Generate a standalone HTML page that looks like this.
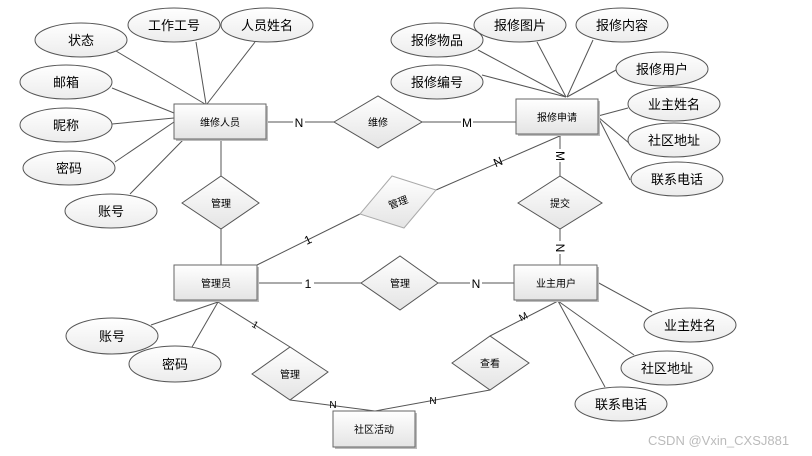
<!DOCTYPE html>
<html><head><meta charset="utf-8"><style>
html,body{margin:0;padding:0;background:#fff;width:812px;height:456px;overflow:hidden}
svg{display:block}
text{font-family:"Liberation Sans","Noto Sans CJK SC",sans-serif;fill:#000}
</style></head><body>
<svg width="812" height="456" viewBox="0 0 812 456" xmlns="http://www.w3.org/2000/svg">
<defs>
<linearGradient id="g" x1="0" y1="0" x2="0" y2="1"><stop offset="0" stop-color="#ffffff"/><stop offset="1" stop-color="#e4e4e4"/></linearGradient>
<linearGradient id="g2" x1="0" y1="0" x2="0" y2="1"><stop offset="0" stop-color="#ffffff"/><stop offset="1" stop-color="#ececec"/></linearGradient>
</defs>
<g stroke="#555" stroke-width="1" fill="none">
<!-- 维修人员 lines -->
<line x1="116" y1="51" x2="205" y2="104"/>
<line x1="196" y1="42" x2="206" y2="104"/>
<line x1="255" y1="42" x2="207" y2="104"/>
<line x1="112" y1="88" x2="174" y2="113"/>
<line x1="112" y1="124" x2="174" y2="118"/>
<line x1="115" y1="162" x2="174" y2="122"/>
<line x1="130" y1="194" x2="184" y2="139"/>
<line x1="266" y1="122" x2="334" y2="122"/>
<line x1="422" y1="122" x2="516" y2="122"/>
<line x1="221" y1="139" x2="221" y2="176"/>
<line x1="221" y1="228" x2="221" y2="265"/>
<!-- 报修申请 lines -->
<line x1="478" y1="50" x2="566" y2="97"/>
<line x1="482" y1="75" x2="566" y2="97"/>
<line x1="537" y1="42" x2="566" y2="97"/>
<line x1="593" y1="40" x2="567" y2="97"/>
<line x1="616" y1="70" x2="567" y2="97"/>
<line x1="628" y1="108" x2="598" y2="116"/>
<line x1="629" y1="143" x2="598" y2="117"/>
<line x1="630" y1="180" x2="598" y2="117"/>
<line x1="560" y1="134" x2="560" y2="176"/>
<line x1="560" y1="228" x2="560" y2="265"/>
<line x1="436" y1="190" x2="562" y2="135"/>
<line x1="257" y1="265" x2="360" y2="214"/>
<!-- 管理员 lines -->
<line x1="257" y1="283" x2="361" y2="283"/>
<line x1="438" y1="283" x2="514" y2="283"/>
<line x1="218" y1="302" x2="151" y2="325"/>
<line x1="218" y1="302" x2="192" y2="347"/>
<line x1="218" y1="302" x2="290" y2="347"/>
<line x1="290" y1="400" x2="375" y2="411"/>
<line x1="375" y1="411" x2="490" y2="390"/>
<line x1="490" y1="336" x2="558" y2="301"/>
<line x1="597" y1="282" x2="652" y2="312"/>
<line x1="558" y1="301" x2="634" y2="355"/>
<line x1="558" y1="301" x2="605" y2="387"/>
</g>
<!-- cardinality labels -->
<g font-size="12" text-anchor="middle">
<rect x="293" y="115" width="12" height="14" fill="#fff"/><text x="299" y="127">N</text>
<rect x="461" y="115" width="12" height="14" fill="#fff"/><text x="467" y="127">M</text>
<text x="498" y="166" transform="rotate(-23 498 162)">N</text>
<text x="308" y="244" transform="rotate(-25 308 240)">1</text>
<rect x="554" y="149" width="12" height="13" fill="#fff"/><text x="560" y="160" transform="rotate(90 560 156)">M</text>
<rect x="554" y="241" width="12" height="13" fill="#fff"/><text x="560" y="252" transform="rotate(90 560 248)">N</text>
<rect x="302" y="276" width="12" height="14" fill="#fff"/><text x="308" y="288">1</text>
<rect x="470" y="276" width="12" height="14" fill="#fff"/><text x="476" y="288">N</text>
<text x="255" y="328" font-size="10" transform="rotate(30 255 325)">1</text>
<text x="333" y="408" font-size="10">N</text>
<text x="433" y="404" font-size="10">N</text>
<text x="523" y="320" font-size="10" transform="rotate(-27 523 316)">M</text>
</g>
<!-- ellipses -->
<g fill="url(#g2)" stroke="#555" stroke-width="1">
<ellipse cx="81" cy="40" rx="46" ry="17"/>
<ellipse cx="174" cy="25" rx="46" ry="17"/>
<ellipse cx="267" cy="25" rx="46" ry="17"/>
<ellipse cx="66" cy="82" rx="46" ry="17"/>
<ellipse cx="66" cy="125" rx="46" ry="17"/>
<ellipse cx="69" cy="168" rx="46" ry="17"/>
<ellipse cx="111" cy="211" rx="46" ry="17"/>
<ellipse cx="437" cy="40" rx="46" ry="17"/>
<ellipse cx="520" cy="25" rx="46" ry="17"/>
<ellipse cx="622" cy="25" rx="46" ry="17"/>
<ellipse cx="437" cy="82" rx="46" ry="17"/>
<ellipse cx="662" cy="69" rx="46" ry="17"/>
<ellipse cx="674" cy="104" rx="46" ry="17"/>
<ellipse cx="674" cy="140" rx="46" ry="17"/>
<ellipse cx="677" cy="179" rx="46" ry="17"/>
<ellipse cx="112" cy="336" rx="46" ry="18"/>
<ellipse cx="175" cy="364" rx="46" ry="18"/>
<ellipse cx="690" cy="325" rx="46" ry="17"/>
<ellipse cx="667" cy="368" rx="46" ry="17"/>
<ellipse cx="621" cy="404" rx="46" ry="17"/>
</g>
<!-- rects -->
<g fill="url(#g)" stroke="#666" stroke-width="1">
<rect x="176" y="106" width="92" height="35" fill="#bbb" stroke="none"/>
<rect x="174" y="104" width="92" height="35"/>
<rect x="518" y="101" width="82" height="35" fill="#bbb" stroke="none"/>
<rect x="516" y="99" width="82" height="35"/>
<rect x="176" y="267" width="83" height="35" fill="#bbb" stroke="none"/>
<rect x="174" y="265" width="83" height="35"/>
<rect x="516" y="267" width="83" height="35" fill="#bbb" stroke="none"/>
<rect x="514" y="265" width="83" height="35"/>
<rect x="335" y="413" width="82" height="36" fill="#bbb" stroke="none"/>
<rect x="333" y="411" width="82" height="36"/>
</g>
<!-- diamonds -->
<g fill="url(#g)" stroke="#555" stroke-width="1">
<polygon points="334,122 378,96 422,122 378,148"/>
<polygon points="182,203 221,176 259,203 221,229"/>
<polygon points="360,214 392,176 436,190 404,228" stroke="#aaa"/>
<polygon points="518,203 560,176 602,203 560,229"/>
<polygon points="361,283 400,256 438,283 400,310"/>
<polygon points="252,374 290,347 328,372 290,400"/>
<polygon points="452,363 490,336 529,363 490,390"/>
</g>
<!-- labels -->
<g font-size="13" text-anchor="middle">
<text x="81" y="45">状态</text>
<text x="174" y="30">工作工号</text>
<text x="267" y="30">人员姓名</text>
<text x="66" y="87">邮箱</text>
<text x="66" y="130">昵称</text>
<text x="69" y="173">密码</text>
<text x="111" y="216">账号</text>
<text x="437" y="45">报修物品</text>
<text x="520" y="30">报修图片</text>
<text x="622" y="30">报修内容</text>
<text x="437" y="87">报修编号</text>
<text x="662" y="74">报修用户</text>
<text x="674" y="109">业主姓名</text>
<text x="674" y="145">社区地址</text>
<text x="677" y="184">联系电话</text>
<text x="112" y="341">账号</text>
<text x="175" y="369">密码</text>
<text x="690" y="330">业主姓名</text>
<text x="667" y="373">社区地址</text>
<text x="621" y="409">联系电话</text>
</g>
<g font-size="10" text-anchor="middle">
<text x="220" y="126">维修人员</text>
<text x="557" y="121">报修申请</text>
<text x="216" y="287">管理员</text>
<text x="556" y="287">业主用户</text>
<text x="374" y="433">社区活动</text>
<text x="378" y="126">维修</text>
<text x="221" y="207">管理</text>
<text x="398" y="206" transform="rotate(-20 398 202)">管理</text>
<text x="560" y="207">提交</text>
<text x="400" y="287">管理</text>
<text x="290" y="378">管理</text>
<text x="490" y="367">查看</text>
</g>
<text x="648" y="445" font-size="13" fill="#bbb" style="fill:#bbb">CSDN @Vxin_CXSJ881</text>
</svg>
</body></html>
